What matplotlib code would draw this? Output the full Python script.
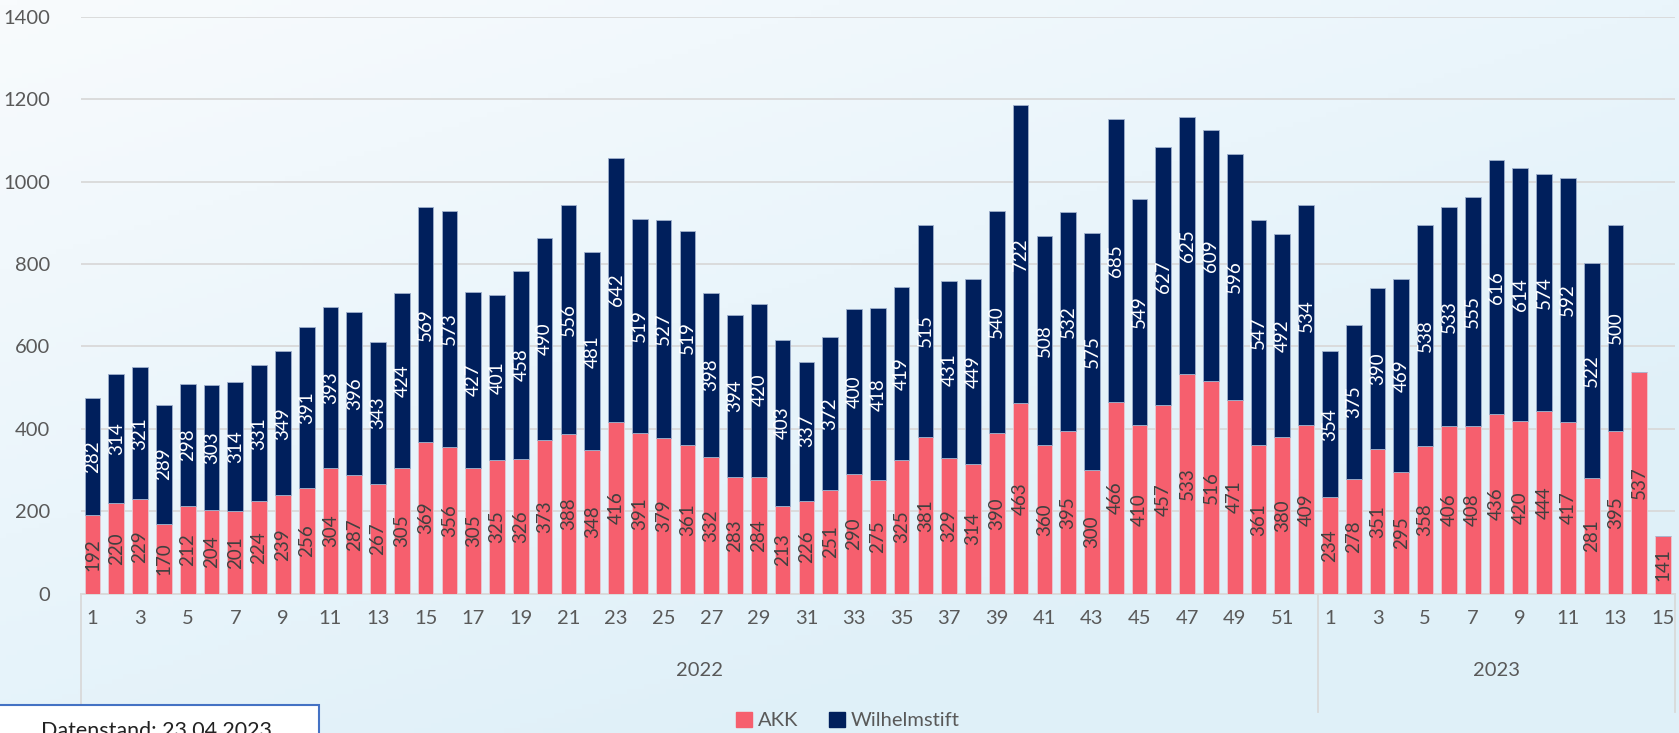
import numpy as np
import matplotlib
matplotlib.use("Agg")
import matplotlib.pyplot as plt
from matplotlib.patches import Rectangle, Patch
from matplotlib.colors import LinearSegmentedColormap

# Kalenderwochen
weeks_2022 = list(range(1, 53))
weeks_2023 = list(range(1, 16))

akk_2022 = [192, 220, 229, 170, 212, 204, 201, 224, 239, 256, 304, 287, 267, 305, 369, 356,
            305, 325, 326, 373, 388, 348, 416, 391, 379, 361, 332, 283, 284, 213, 226, 251,
            290, 275, 325, 381, 329, 314, 390, 463, 360, 395, 300, 466, 410, 457, 533, 516,
            471, 361, 380, 409]
wst_2022 = [282, 314, 321, 289, 298, 303, 314, 331, 349, 391, 393, 396, 343, 424, 569, 573,
            427, 401, 458, 490, 556, 481, 642, 519, 527, 519, 398, 394, 420, 403, 337, 372,
            400, 418, 419, 515, 431, 449, 540, 722, 508, 532, 575, 685, 549, 627, 625, 609,
            596, 547, 492, 534]
akk_2023 = [234, 278, 351, 295, 358, 406, 408, 436, 420, 444, 417, 281, 395, 537, 141]
wst_2023 = [354, 375, 390, 469, 538, 533, 555, 616, 614, 574, 592, 522, 500, None, None]

years = ["2022", "2023"]
series_names = ["AKK", "Wilhelmstift"]
stand_text = "Datenstand: 23.04.2023"

C_AKK = "#F65F6E"
C_WST = "#001F5C"
C_TXT = "#595959"

plt.rcParams['font.family'] = ['Lato', 'DejaVu Sans']


def background(fig):
	bg = fig.add_axes([0, 0, 1, 1], zorder=-10)
	xx, yy = np.meshgrid(np.linspace(0, 1, 300), np.linspace(0, 1, 150))
	t = np.clip(0.55 * xx + 0.75 * yy, 0, 1)
	cmap = LinearSegmentedColormap.from_list("bg", ["#F8FBFD", "#EAF5FB", "#DDEFF8"])
	bg.imshow(t, cmap=cmap, aspect='auto', extent=[0, 1, 0, 1], vmin=0, vmax=1.1)
	bg.axis('off')


def main():
	fig = plt.figure(figsize=(16.79, 7.33), dpi=100)
	background(fig)
	ax = fig.add_axes([0.048, 0.190, 0.9496, 0.787])
	ax.patch.set_alpha(0)

	akk = akk_2022 + akk_2023
	wst = wst_2022 + wst_2023
	wst_vals = np.array([np.nan if v is None else v for v in wst], dtype=float)
	x = np.arange(len(akk))

	b1 = ax.bar(x, akk, width=0.66, color=C_AKK, edgecolor="#e9c9d3", linewidth=0.6, zorder=3)
	b2 = ax.bar(x, np.nan_to_num(wst_vals), bottom=akk, width=0.66, color=C_WST,
		edgecolor="#9fb0cc", linewidth=0.6, zorder=3)

	ax.bar_label(b1, labels=[str(v) for v in akk], label_type='center', rotation=90,
		color="#404040", fontsize=13.5)
	ax.bar_label(b2, labels=['' if v is None else str(v) for v in wst], label_type='center',
		rotation=90, color="white", fontsize=13.5)

	ax.set_ylim(0, 1400)
	ax.set_xlim(-0.5, len(akk) - 0.5)
	ax.set_yticks(range(0, 1401, 200))
	ax.tick_params(axis='y', length=0, labelsize=14.5, labelcolor=C_TXT, pad=22)
	ax.yaxis.grid(True, color="#D9D9D9", linewidth=1.3, zorder=0)
	for s in ['top', 'right', 'left']:
		ax.spines[s].set_visible(False)
	ax.spines['bottom'].set_color("#D9D9D9")
	ax.spines['bottom'].set_linewidth(1.3)

	# Wochen-Beschriftung (jede zweite Woche)
	ax.set_xticks([])
	trans = ax.get_xaxis_transform()
	all_weeks = weeks_2022 + weeks_2023
	for i, w in enumerate(all_weeks):
		if w % 2 == 1:
			ax.text(i, -0.043, str(w), transform=trans, ha='center', va='center',
				fontsize=14.5, color=C_TXT)

	# Jahr-Gruppen
	n22 = len(weeks_2022)
	groups = [(-0.5, n22 - 0.5), (n22 - 0.5, len(all_weeks) - 0.5)]
	for (a, b), yr in zip(groups, years):
		ax.text((a + b) / 2, -0.133, yr, transform=trans, ha='center', va='center',
			fontsize=14.5, color=C_TXT)
	for xv in [-0.5, n22 - 0.5, len(all_weeks) - 0.5]:
		ax.plot([xv, xv], [0, -0.205], transform=trans, color="#D9D9D9", lw=1.3, clip_on=False)

	handles = [Patch(color=C_AKK), Patch(color=C_WST)]
	fig.legend(handles, series_names, loc='center', bbox_to_anchor=(0.505, 0.017), ncol=2,
		frameon=False, fontsize=14.5, labelcolor=C_TXT, handlelength=0.8, handleheight=0.8,
		handletextpad=0.3, columnspacing=1.5)

	# Datenstand-Kasten unten links
	fig.patches.append(Rectangle((-0.01, -0.05), 0.2, 0.088, transform=fig.transFigure,
		facecolor='white', edgecolor="#4472C4", linewidth=1.5))
	fig.text(0.093, 0.017, stand_text, ha='center', va='top', fontsize=15.5, color="#222222")

	fig.savefig("out.png", dpi=100)


if __name__ == "__main__":
	main()
